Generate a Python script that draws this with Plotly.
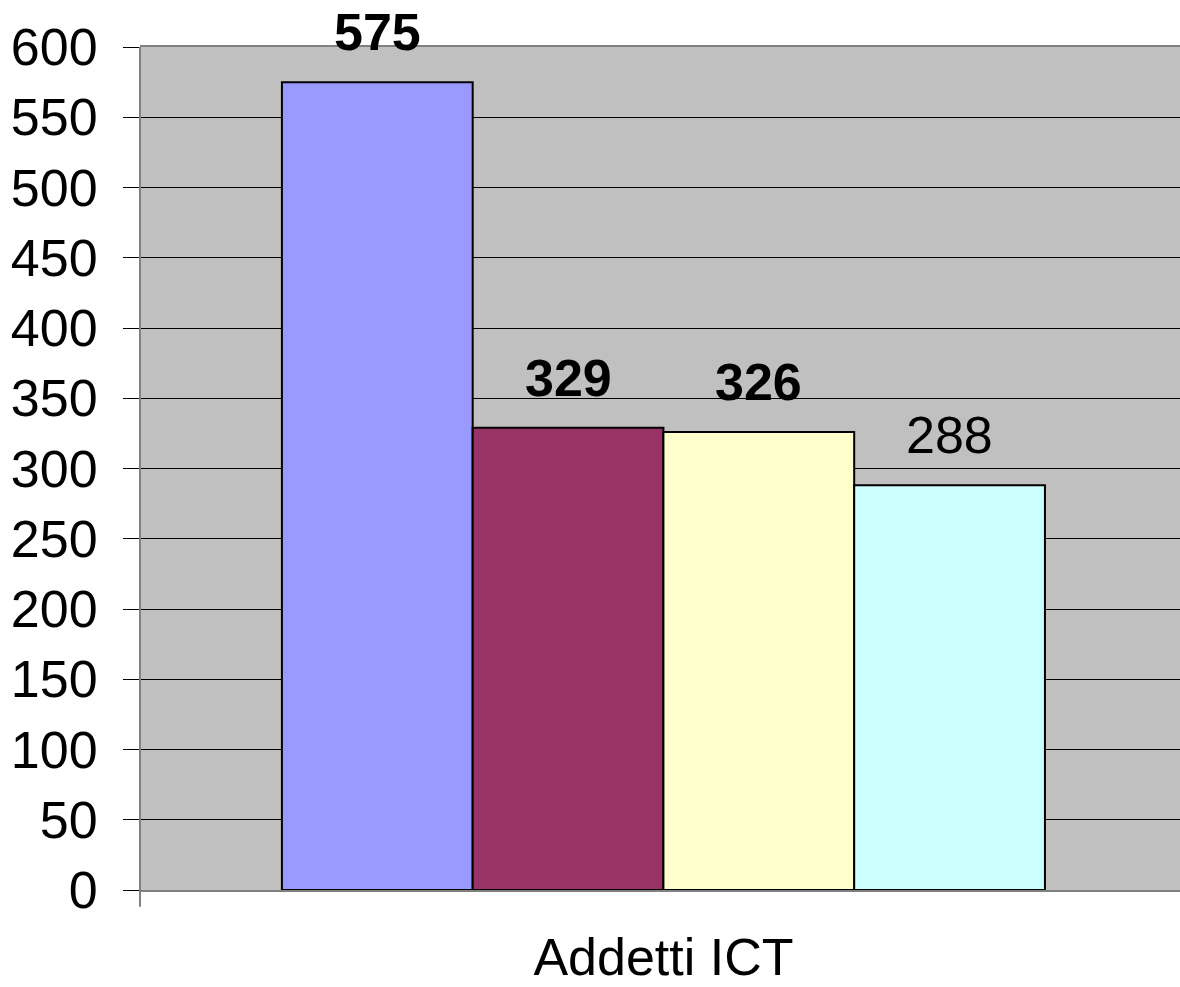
import plotly.graph_objects as go

category = "Addetti ICT"
series_values = [575, 329, 326, 288]
series_colors = ["#9999FF", "#993366", "#FFFFCC", "#CCFFFF"]
label_bold = [True, True, True, False]
y_ticks = [0, 50, 100, 150, 200, 250, 300, 350, 400, 450, 500, 550, 600]

FONT = "Liberation Sans, Arial, sans-serif"
FS = 52
n = len(series_values)
bar_w = 1.0
group_left = -n * bar_w / 2

fig = go.Figure()
for i, (v, c) in enumerate(zip(series_values, series_colors)):
    off = group_left + i * bar_w
    fig.add_trace(go.Bar(
        x=[0], y=[v], width=[bar_w], offset=[off],
        marker=dict(color=c, line=dict(color="black", width=2)),
        showlegend=False, hoverinfo="skip",
    ))
    txt = f"<b>{v}</b>" if label_bold[i] else f"{v}"
    fig.add_annotation(
        x=off + bar_w / 2, y=v, xref="x", yref="y",
        text=txt, showarrow=False, yanchor="bottom", yshift=19,
        font=dict(family=FONT, size=FS, color="black"),
    )

fig.add_shape(type="line", xref="paper", yref="paper",
              x0=0, x1=0, y0=-0.02, y1=1,
              line=dict(color="#808080", width=2))

fig.update_layout(
    width=1180, height=987,
    margin=dict(l=140, r=0, t=47, b=97),
    paper_bgcolor="white", plot_bgcolor="#C0C0C0",
    barmode="overlay",
    font=dict(family=FONT, size=FS, color="black"),
    xaxis=dict(
        range=[-2.744, 2.708], tickvals=[0], ticktext=[category],
        showgrid=False, zeroline=False, showline=True, mirror=True,
        linecolor="#808080", linewidth=2, ticks="", automargin=False,
        tickfont=dict(family=FONT, size=FS), ticklabelstandoff=21,
    ),
    yaxis=dict(
        range=[0, 600], tickvals=y_ticks, showgrid=True,
        gridcolor="black", gridwidth=1, zeroline=False, automargin=False,
        showline=False, ticks="outside", ticklen=16, tickcolor="black",
        tickwidth=1, tickfont=dict(family=FONT, size=FS),
        ticklabelstandoff=15,
    ),
)

fig.write_html(
    "out.html",
    config={"displayModeBar": False},
    post_script="document.body.style.margin='0';document.body.style.overflow='hidden';",
)
